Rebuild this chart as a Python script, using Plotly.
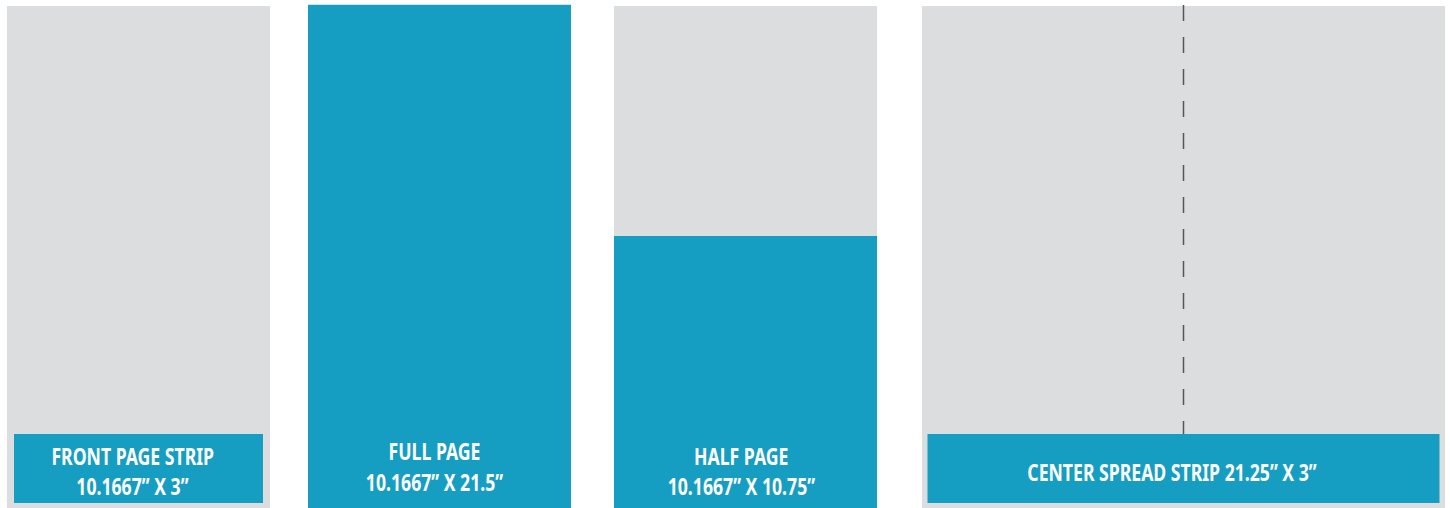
import plotly.graph_objects as go

# ---- data (inches) ----
ads = ["FRONT PAGE STRIP", "FULL PAGE", "HALF PAGE", "CENTER SPREAD STRIP"]
size_labels = ["10.1667\u201d X 3\u201d", "10.1667\u201d X 21.5\u201d", "10.1667\u201d X 10.75\u201d", "21.25\u201d X 3\u201d"]
page_height = [21.5, 21.5, 21.5, 21.5]
ad_base = [0.21, 0.0, 0.0, 0.21]
ad_height = [2.96, 21.55, 11.65, 2.96]

# ---- layout (pixels) ----
W, H = 1450, 508
PX_PER_IN = 502 / 21.5
panel_center = [138.5, 439.5, 745.5, 1183.5]
panel_width = [263, 263, 263, 523]
ad_width = [249, 263, 263, 512]
GRAY = "#dcdddf"
BLUE = "#159ec1"

fig = go.Figure()
fig.add_trace(go.Bar(x=panel_center, y=page_height, width=panel_width, base=0,
                     marker=dict(color=GRAY, line=dict(width=0)), hoverinfo="skip"))
fig.add_trace(go.Bar(x=panel_center, y=ad_height, width=ad_width, base=ad_base,
                     marker=dict(color=BLUE, line=dict(width=0)), hoverinfo="skip"))

# fold line on center spread
fold_top = 503 / PX_PER_IN
fold_bottom = ad_base[3] + ad_height[3]
fig.add_trace(go.Scatter(x=[panel_center[3], panel_center[3]], y=[fold_top, fold_bottom],
                         mode="lines", line=dict(color="#55555a", width=1.5, dash="16px,16px"),
                         hoverinfo="skip"))

font = dict(family="Noto Sans", size=24, color="white", weight=700)
# two-line labels for first three, single line for spread
line1_px = [455, 450.5, 455]
line2_px = [485, 481.5, 485.5]
text_cx = [132.5, 434, 741]
for i in range(3):
    for txt, ypx in ((ads[i], line1_px[i]), (size_labels[i], line2_px[i])):
        fig.add_annotation(x=text_cx[i], y=(H - ypx) / PX_PER_IN, text=txt,
                           showarrow=False, font=font, xanchor="center", yanchor="middle")
fig.add_annotation(x=1171.5, y=(H - 471.7) / PX_PER_IN,
                   text="%s %s" % (ads[3], size_labels[3]),
                   showarrow=False, font=font, xanchor="center", yanchor="middle")

fig.update_layout(
    width=W, height=H, margin=dict(l=0, r=0, t=0, b=0),
    paper_bgcolor="white", plot_bgcolor="white",
    barmode="overlay", showlegend=False,
    xaxis=dict(range=[0, W], visible=False, fixedrange=True),
    yaxis=dict(range=[0, H / PX_PER_IN], visible=False, fixedrange=True),
)
post = """
document.body.style.margin='0';
document.body.style.overflow='hidden';
var S = 0.735;
document.querySelectorAll('text.annotation-text').forEach(function(t){
  var bb = t.getBBox();
  var cx = bb.x + bb.width / 2;
  t.setAttribute('transform', 'translate(' + cx + ',0) scale(' + S + ',1) translate(' + (-cx) + ',0)');
});
"""
fig.write_html("out.html", config={"displayModeBar": False}, post_script=post)
